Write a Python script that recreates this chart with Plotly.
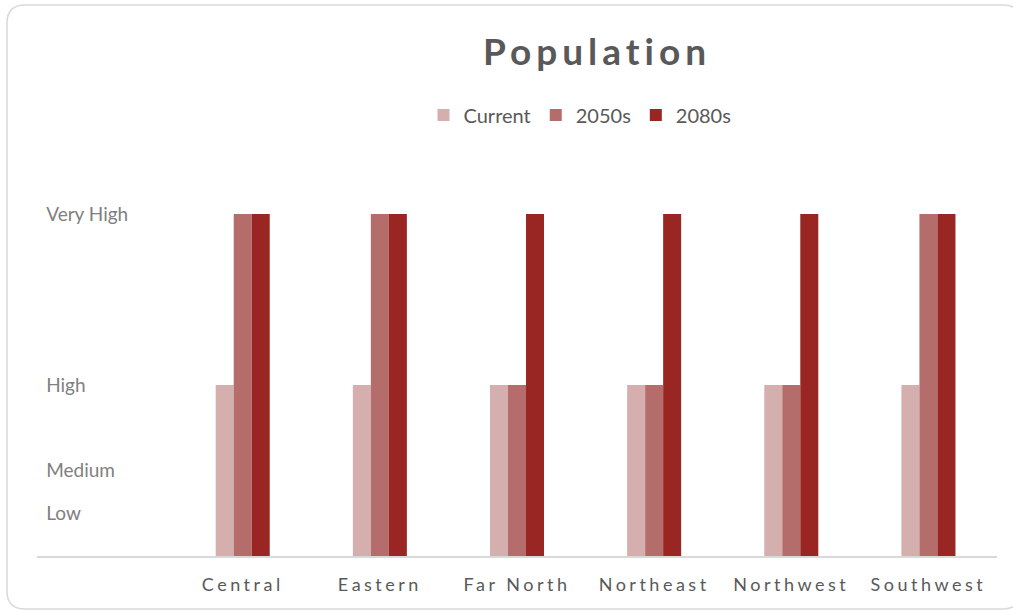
import plotly.graph_objects as go

# Region names along the category axis
regions = ["Central", "Eastern", "Far North", "Northeast", "Northwest", "Southwest"]

# Risk level scale (numeric code -> label)
level_values = [1, 2, 4, 8]
level_labels = ["Low", "Medium", "High", "Very High"]

# Population risk level per region for each period
current = [4, 4, 4, 4, 4, 4]
y2050s = [8, 8, 4, 4, 4, 8]
y2080s = [8, 8, 8, 8, 8, 8]

series = [
    ("Current", current, "#D5AFAE"),
    ("2050s", y2050s, "#B56D6B"),
    ("2080s", y2080s, "#992622"),
]

W, H = 1013, 610
ML, MR, MT, MB = 37, 16, 140, 54
plot_w = W - ML - MR
plot_h = H - MT - MB

x_pos = list(range(len(regions)))

fig = go.Figure()
for name, vals, color in series:
    fig.add_trace(go.Bar(
        x=x_pos, y=vals, name=name,
        marker=dict(color=color, line=dict(width=0)),
    ))

# Rounded outer frame, built in pixels and converted to paper units
def P(px, py):
    x = (px - ML) / plot_w
    y = (H - MB - py) / plot_h
    return f"{x:.5f},{y:.5f}"

left, top, right, bottom, r = 7, 5, 1021, 609, 18
frame = (
    f"M {P(left + r, top)} L {P(right - r, top)} Q {P(right, top)} {P(right, top + r)} "
    f"L {P(right, bottom - r)} Q {P(right, bottom)} {P(right - r, bottom)} "
    f"L {P(left + r, bottom)} Q {P(left, bottom)} {P(left, bottom - r)} "
    f"L {P(left, top + r)} Q {P(left, top)} {P(left + r, top)} Z"
)
fig.add_shape(type="path", xref="paper", yref="paper", path=frame,
              line=dict(color="#D9D9D9", width=1.5), layer="below")

fig.update_layout(
    width=W, height=H,
    margin=dict(l=ML, r=MR, t=MT, b=MB, autoexpand=False),
    paper_bgcolor="white", plot_bgcolor="white",
    barmode="group", bargap=0.606, bargroupgap=0,
    font=dict(family="Lato", color="#595959"),
    title=dict(
        text="<b>Population</b>",
        font=dict(size=37, color="#595959", family="Lato"),
        x=597 / W, xref="container", xanchor="center",
        y=1 - 52 / H, yref="container", yanchor="middle",
    ),
    legend=dict(
        orientation="h",
        x=580 / W, xref="container", xanchor="center",
        y=1 - 115 / H, yref="container", yanchor="middle",
        font=dict(size=20, color="#595959"),
        itemwidth=30, tracegroupgap=0,
        bgcolor="rgba(0,0,0,0)",
    ),
    xaxis=dict(
        range=[-1.5, len(regions) - 0.5],
        tickvals=x_pos, ticktext=regions,
        showgrid=False, zeroline=False,
        showline=True, linecolor="#D9D9D9", linewidth=1.5,
        ticks="outside", ticklen=12, tickcolor="rgba(0,0,0,0)",
        tickfont=dict(size=18, color="#595959", family="Lato"),
        automargin=False, fixedrange=True,
    ),
    yaxis=dict(
        range=[0, plot_h / 42.75],
        tickvals=level_values, ticktext=level_labels,
        showgrid=False, zeroline=False, showline=False,
        ticklabelposition="inside",
        ticks="inside", ticklen=10, tickcolor="rgba(0,0,0,0)",
        tickfont=dict(size=19, color="#808080", family="Lato"),
        automargin=False, fixedrange=True,
    ),
    showlegend=True,
)

spacing_css = (
    "var s=document.createElement('style');"
    "s.textContent='.gtitle{letter-spacing:5px}.xtick text{letter-spacing:3.5px}';"
    "document.head.appendChild(s);"
)

fig.write_html("out.html", post_script=spacing_css, config={"displayModeBar": False})
